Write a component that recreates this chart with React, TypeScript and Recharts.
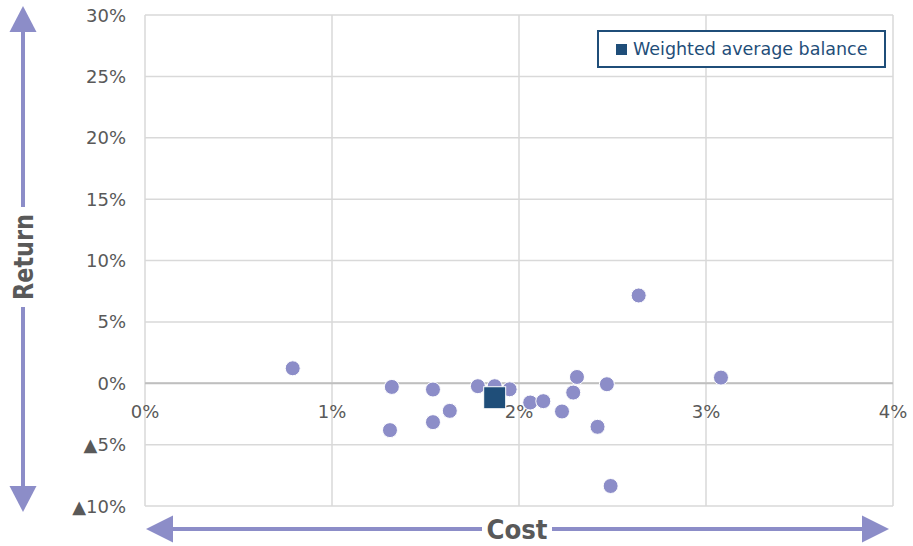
import React from "react";
import {
  ScatterChart,
  Scatter,
  XAxis,
  YAxis,
  CartesianGrid,
  ReferenceLine,
  ReferenceDot
} from "recharts";

// cost (%) / return (%) per fund
const fundCost = [
  0.79, 1.32, 1.54, 1.78, 1.87, 1.95, 2.06, 2.13, 1.63, 1.54,
  1.31, 2.64, 2.31, 2.47, 2.29, 2.23, 2.42, 2.49, 3.08
];
const fundReturn = [
  1.22, -0.3, -0.51, -0.24, -0.24, -0.49, -1.57, -1.46, -2.25, -3.17,
  -3.82, 7.15, 0.51, -0.08, -0.76, -2.3, -3.55, -8.37, 0.46
];

const avgCost = [1.87];
const avgReturn = [-1.18];

const costTicks = [0, 1, 2, 3, 4];
const returnTicks = [-10, -5, 0, 5, 10, 15, 20, 25, 30];

const W = 913;
const H = 546;
const DOT = "#8c8dc8";
const NAVY = "#1f4e79";
const TEXT = "#595959";
const FONT = "'DejaVu Sans', Verdana, sans-serif";

const funds = fundCost.map((c, i) => ({ cost: c, ret: fundReturn[i] }));
const average = avgCost.map((c, i) => ({ cost: c, ret: avgReturn[i] }));

const fmtReturn = (v: number) => (v < 0 ? `▲${Math.abs(v)}%` : `${v}%`);

const ReturnTick = (props: any) => {
  const { x, y, payload } = props;
  return (
    <text
      x={x}
      y={y}
      textAnchor="end"
      dominantBaseline="central"
      fontSize={18}
      fill={TEXT}
      fontFamily={FONT}
    >
      {fmtReturn(payload.value)}
    </text>
  );
};

const Circle = (props: any) => (
  <circle cx={props.cx} cy={props.cy} r={7.5} fill={DOT} stroke="#fff" strokeWidth={1} />
);

const Square = (props: any) => (
  <rect
    x={props.cx - 11}
    y={props.cy - 11}
    width={22}
    height={22}
    fill={NAVY}
    stroke="#fff"
    strokeWidth={1}
  />
);

// legend sits inside the plot, top right
const LegendBox = () => (
  <div
    style={{
      position: "absolute",
      top: 30,
      left: 597,
      boxSizing: "border-box",
      width: 289,
      height: 38,
      border: `2px solid ${NAVY}`,
      background: "#fff",
      display: "flex",
      alignItems: "center",
      paddingLeft: 17,
      fontFamily: FONT,
      fontSize: 17.5,
      color: NAVY
    }}
  >
    <span style={{ width: 11, height: 11, background: NAVY, marginRight: 6 }} />
    Weighted average balance
  </div>
);

const Arrows = () => (
  <svg
    width={W}
    height={H}
    style={{ position: "absolute", top: 0, left: 0, pointerEvents: "none" }}
  >
    {/* vertical: Return */}
    <line x1={23} y1={30} x2={23} y2={488} stroke={DOT} strokeWidth={4} />
    <polygon points="23,6 9.5,32 36.5,32" fill={DOT} />
    <polygon points="23,512 9.5,486 36.5,486" fill={DOT} />
    <rect x={10} y={207} width={27} height={100} fill="#fff" />
    <text
      x={0}
      y={0}
      transform="translate(32.5 257) rotate(-90)"
      textAnchor="middle"
      fontSize={27}
      fontWeight="bold"
      fill={TEXT}
      fontFamily={FONT}
      textLength={86}
      lengthAdjust="spacingAndGlyphs"
    >
      Return
    </text>
    {/* horizontal: Cost */}
    <line x1={170} y1={529} x2={866} y2={529} stroke={DOT} strokeWidth={4} />
    <polygon points="146,529 173,515.5 173,542.5" fill={DOT} />
    <polygon points="889,529 862,515.5 862,542.5" fill={DOT} />
    <rect x={482} y={516} width={70} height={28} fill="#fff" />
    <text
      x={517}
      y={539}
      textAnchor="middle"
      fontSize={27}
      fontWeight="bold"
      fill={TEXT}
      fontFamily={FONT}
      textLength={61}
      lengthAdjust="spacingAndGlyphs"
    >
      Cost
    </text>
  </svg>
);

export default function App() {
  return (
    <div
      style={{
        position: "absolute",
        top: 0,
        left: 0,
        width: W,
        height: H,
        background: "#fff",
        fontFamily: FONT
      }}
    >
      <ScatterChart
        width={W}
        height={H}
        margin={{ top: 15, right: 20, bottom: 40, left: 0 }}
      >
        <CartesianGrid stroke="#d9d9d9" strokeWidth={1.5} />
        <XAxis
          type="number"
          dataKey="cost"
          domain={[0, 4]}
          ticks={costTicks}
          hide
        />
        <YAxis
          type="number"
          dataKey="ret"
          domain={[-10, 30]}
          ticks={returnTicks}
          width={145}
          axisLine={false}
          tickLine={false}
          tickSize={0}
          tickMargin={19}
          tick={<ReturnTick />}
        />
        <ReferenceLine y={0} stroke="#bfbfbf" strokeWidth={2} />
        {costTicks.map((t) => (
          <ReferenceDot
            key={t}
            x={t}
            y={0}
            r={0}
            shape={(p: any) => (
              <text
                x={p.cx}
                y={p.cy + 28}
                textAnchor="middle"
                dominantBaseline="central"
                fontSize={18}
                fill={TEXT}
                fontFamily={FONT}
              >
                {`${t}%`}
              </text>
            )}
          />
        ))}
        <Scatter
          name="Funds"
          data={funds}
          shape={<Circle />}
          isAnimationActive={false}
        />
        <Scatter
          name="Weighted average balance"
          data={average}
          shape={<Square />}
          isAnimationActive={false}
        />
      </ScatterChart>
      <LegendBox />
      <Arrows />
    </div>
  );
}
